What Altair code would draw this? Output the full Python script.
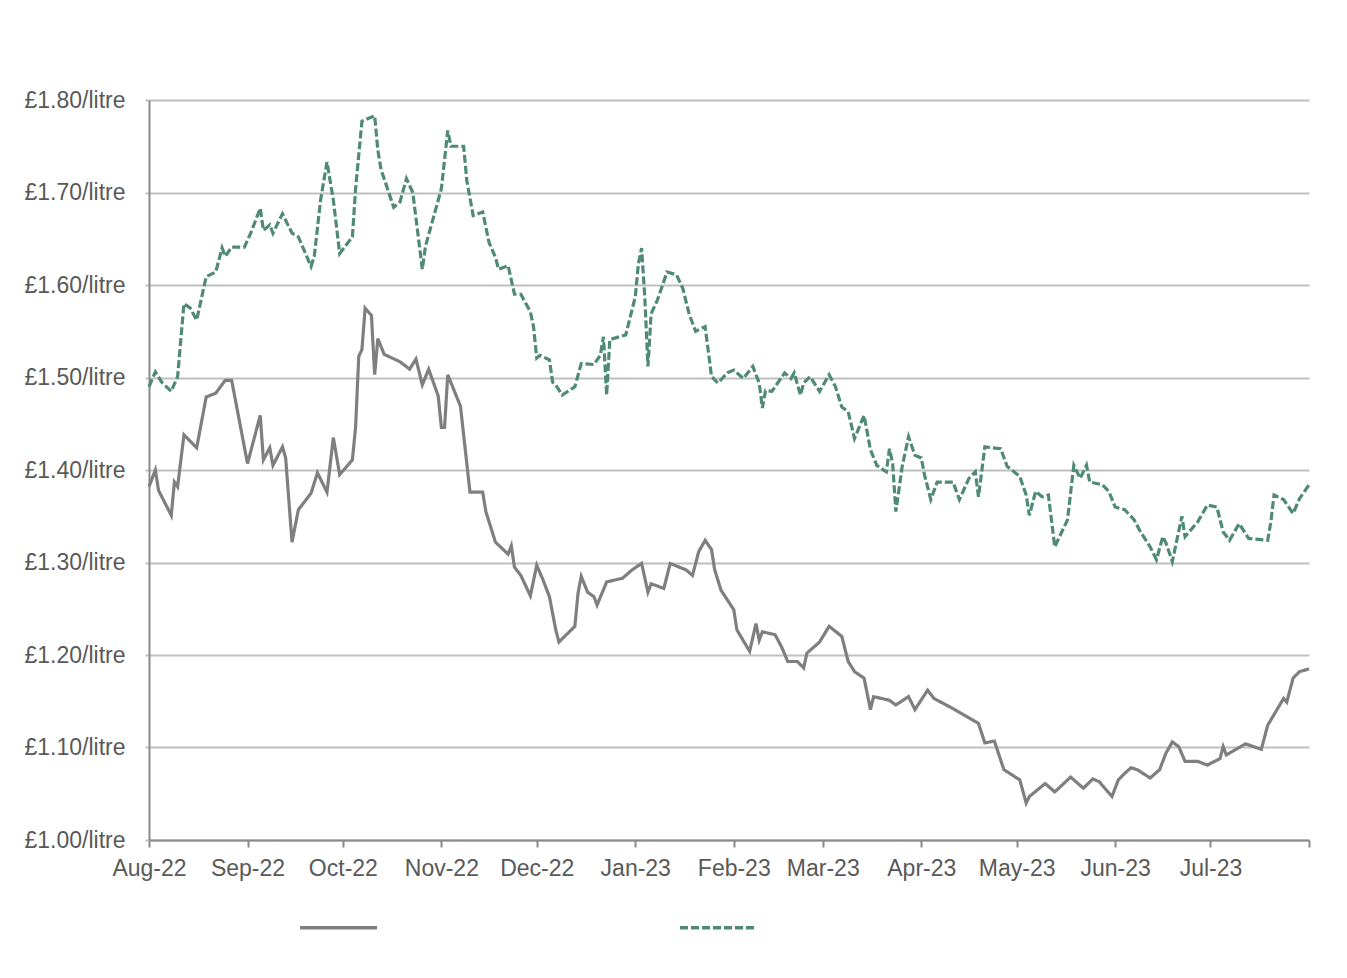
import altair as alt
import pandas as pd

START = "2022-08-01"

# days since 1 Aug 2022 and price (GBP per litre)
petrol_days = [0, 2, 3, 7, 8, 9, 11, 15, 18, 21, 24, 26, 31, 35, 36, 38, 39, 42, 43, 45, 47, 51, 53, 56, 58, 60,
               64, 65, 66, 67, 68, 70, 71, 72, 74, 79, 82, 84, 86, 88, 91, 92, 93, 94, 98, 101, 105, 106, 109,
               113, 114, 115, 117, 120, 122, 124, 126, 128, 129, 134, 135, 136, 138, 140, 141, 144, 149, 152,
               155, 157, 158, 162, 164, 169, 171, 173, 175, 177, 178, 180, 184, 185, 189, 191, 192, 193, 197,
               199, 201, 204, 206, 207, 211, 214, 218, 220, 222, 225, 227, 228, 233, 235, 239, 241, 245, 247,
               253, 259, 261, 263, 266, 269, 274, 276, 277, 282, 285, 290, 294, 297, 299, 303, 305, 307, 309,
               311, 315, 318, 320, 322, 324, 326, 330, 333, 337, 338, 339, 345, 350, 352, 357, 358, 360, 362, 365]
petrol_price = [1.382, 1.400, 1.378, 1.351, 1.387, 1.382, 1.438, 1.424, 1.479, 1.483, 1.497, 1.497, 1.407, 1.459,
                1.411, 1.424, 1.405, 1.425, 1.413, 1.322, 1.357, 1.375, 1.397, 1.376, 1.435, 1.395,
                1.411, 1.446, 1.523, 1.530, 1.575, 1.567, 1.503, 1.542, 1.525, 1.517, 1.509, 1.520, 1.492, 1.509,
                1.480, 1.446, 1.446, 1.503, 1.469, 1.376, 1.376, 1.355, 1.322,
                1.309, 1.318, 1.295, 1.286, 1.264, 1.297, 1.281, 1.263, 1.227, 1.214, 1.231, 1.267, 1.285, 1.268,
                1.263, 1.254, 1.279, 1.283, 1.292,
                1.299, 1.268, 1.277, 1.272, 1.299, 1.292, 1.286, 1.312, 1.324, 1.314, 1.292, 1.270, 1.249, 1.227,
                1.204, 1.234, 1.216, 1.225, 1.222,
                1.209, 1.193, 1.193, 1.186, 1.202, 1.214, 1.231, 1.220, 1.193, 1.182, 1.175, 1.141, 1.155, 1.151,
                1.146, 1.155, 1.141, 1.162, 1.153,
                1.142, 1.130, 1.126, 1.105, 1.107, 1.076, 1.065, 1.040, 1.047, 1.061, 1.052, 1.068, 1.056, 1.066,
                1.063, 1.047, 1.065, 1.072, 1.078,
                1.076, 1.067, 1.076, 1.094, 1.106, 1.101, 1.085, 1.085, 1.081, 1.088, 1.101, 1.092, 1.104, 1.098,
                1.124, 1.153, 1.149, 1.175, 1.182, 1.185]

diesel_days = [0, 2, 4, 7, 9, 11, 13, 15, 18, 21, 23, 24, 26, 30, 32, 35, 36, 38, 39, 42, 45, 47, 51, 52, 54, 56,
               58, 60, 64, 65, 67, 71, 72, 73, 77, 79, 81, 83, 86, 87, 92, 94, 95, 99, 100, 102, 105, 107, 109,
               110, 113, 115, 117, 120, 121, 122, 123, 126, 127, 128, 130, 134, 136, 140, 142, 143, 144, 145, 146,
               150, 153, 154, 155, 156, 157, 158, 160, 163, 166, 168, 170, 172, 175, 177, 179, 182, 184, 187,
               190, 192, 193, 194, 196, 200, 202, 203, 205, 206, 208, 211, 214, 216, 218, 220, 222, 225, 227,
               229, 232, 233, 234, 235, 237, 239, 241, 243, 244, 246, 248, 253, 255, 258, 260, 261, 263, 268,
               270, 274, 276, 277, 279, 281, 283, 285, 289, 291, 293, 295, 296, 300, 302, 304, 307, 310, 312,
               315, 317, 319, 320, 322, 325, 326, 330, 333, 336, 338, 340, 343, 346, 352, 353, 354, 357, 360,
               362, 365]
diesel_price = [1.490, 1.506, 1.495, 1.485, 1.501, 1.580, 1.575, 1.562, 1.609, 1.614, 1.640, 1.631, 1.641, 1.641,
                1.656, 1.683, 1.659, 1.665, 1.656, 1.677, 1.656, 1.652, 1.620, 1.631, 1.692, 1.733,
                1.692, 1.634, 1.652, 1.704, 1.777, 1.783, 1.746, 1.725, 1.684, 1.690, 1.715, 1.700, 1.617, 1.642,
                1.704, 1.767, 1.750, 1.750, 1.713, 1.675, 1.679, 1.646, 1.630,
                1.617, 1.621, 1.590, 1.590, 1.571, 1.555, 1.521, 1.524, 1.519, 1.495, 1.492, 1.481, 1.490, 1.515,
                1.514, 1.524, 1.544, 1.481, 1.541, 1.542,
                1.546, 1.587, 1.623, 1.640, 1.587, 1.512, 1.569, 1.584, 1.614, 1.611, 1.596, 1.568, 1.550, 1.555,
                1.501, 1.494, 1.505, 1.508, 1.499,
                1.512, 1.494, 1.467, 1.486, 1.485, 1.505, 1.499, 1.505, 1.481, 1.494, 1.501, 1.485, 1.503, 1.490,
                1.468, 1.463, 1.434, 1.459, 1.422,
                1.405, 1.398, 1.423, 1.407, 1.355, 1.404, 1.436, 1.416, 1.413, 1.395, 1.368, 1.387, 1.387, 1.368,
                1.391, 1.398, 1.371, 1.425, 1.423,
                1.404, 1.393, 1.373, 1.351, 1.377, 1.371, 1.373, 1.317, 1.346, 1.405, 1.391, 1.405, 1.387, 1.384,
                1.377, 1.360, 1.357, 1.346, 1.333,
                1.317, 1.303, 1.328, 1.321, 1.301, 1.350, 1.328, 1.344, 1.362, 1.360, 1.333, 1.324, 1.342, 1.326,
                1.324, 1.344, 1.373, 1.368, 1.353,
                1.369, 1.384]

series_names = ["Petrol", "Diesel"]
series_colors = ["#7f7f82", "#4f8a74"]
y_ticks = [1.0, 1.1, 1.2, 1.3, 1.4, 1.5, 1.6, 1.7, 1.8]

start = pd.Timestamp(START)
df = pd.concat([
    pd.DataFrame({"date": [start + pd.Timedelta(days=d) for d in petrol_days],
                  "price": petrol_price, "fuel": "Petrol"}),
    pd.DataFrame({"date": [start + pd.Timedelta(days=d) for d in diesel_days],
                  "price": diesel_price, "fuel": "Diesel"}),
], ignore_index=True)

month_ticks = [alt.DateTime(year=2022 + (7 + i) // 12, month=(7 + i) % 12 + 1, date=1) for i in range(13)]

FONT = "Liberation Sans"
TXT = "#595959"
FS = 23

leg = alt.Legend(title=None, labelExpr="''", orient="none", legendX=149, legendY=787,
                 direction="horizontal", symbolType="stroke", symbolSize=5929, symbolStrokeWidth=3.5,
                 labelOffset=0, columnPadding=289, padding=0, labelFontSize=1)

chart = alt.Chart(df).mark_line(strokeWidth=3.2, strokeJoin="miter").encode(
    x=alt.X("date:T",
            scale=alt.Scale(domain=[alt.DateTime(year=2022, month=8, date=1),
                                    alt.DateTime(year=2023, month=8, date=1)], nice=False),
            axis=alt.Axis(title=None, values=month_ticks, grid=False,
                          labelExpr="timeFormat(datum.value, '%b-%y') == 'Aug-23' ? '' : timeFormat(datum.value, '%b-%y')",
                          domainColor="#8a8a8a", domainWidth=2, tickColor="#8a8a8a", tickWidth=2,
                          tickSize=7, labelPadding=10, labelFont=FONT, labelFontSize=FS,
                          labelColor=TXT, labelOverlap=False, labelFlush=False)),
    y=alt.Y("price:Q",
            scale=alt.Scale(domain=[1.0, 1.8], nice=False, zero=False),
            axis=alt.Axis(title=None, values=y_ticks,
                          labelExpr="'£' + format(datum.value, '.2f') + '/litre'",
                          grid=True, gridColor="#c0c0c0", gridWidth=2,
                          domainColor="#8a8a8a", domainWidth=2, tickColor="#c0c0c0", tickWidth=2,
                          tickSize=4, labelPadding=20, labelFont=FONT, labelFontSize=FS,
                          labelColor=TXT)),
    color=alt.Color("fuel:N", scale=alt.Scale(domain=series_names, range=series_colors), legend=leg),
    strokeDash=alt.StrokeDash("fuel:N", scale=alt.Scale(domain=series_names, range=[[1, 0], [8, 3]]),
                              legend=leg),
).properties(
    width=1160, height=740,
    autosize=alt.AutoSizeParams(type="none"),
    padding={"left": 141, "top": 92, "right": 30, "bottom": 130},
).configure_view(strokeWidth=0)

chart.save("out.html", embed_options={"renderer": "svg", "actions": False})
